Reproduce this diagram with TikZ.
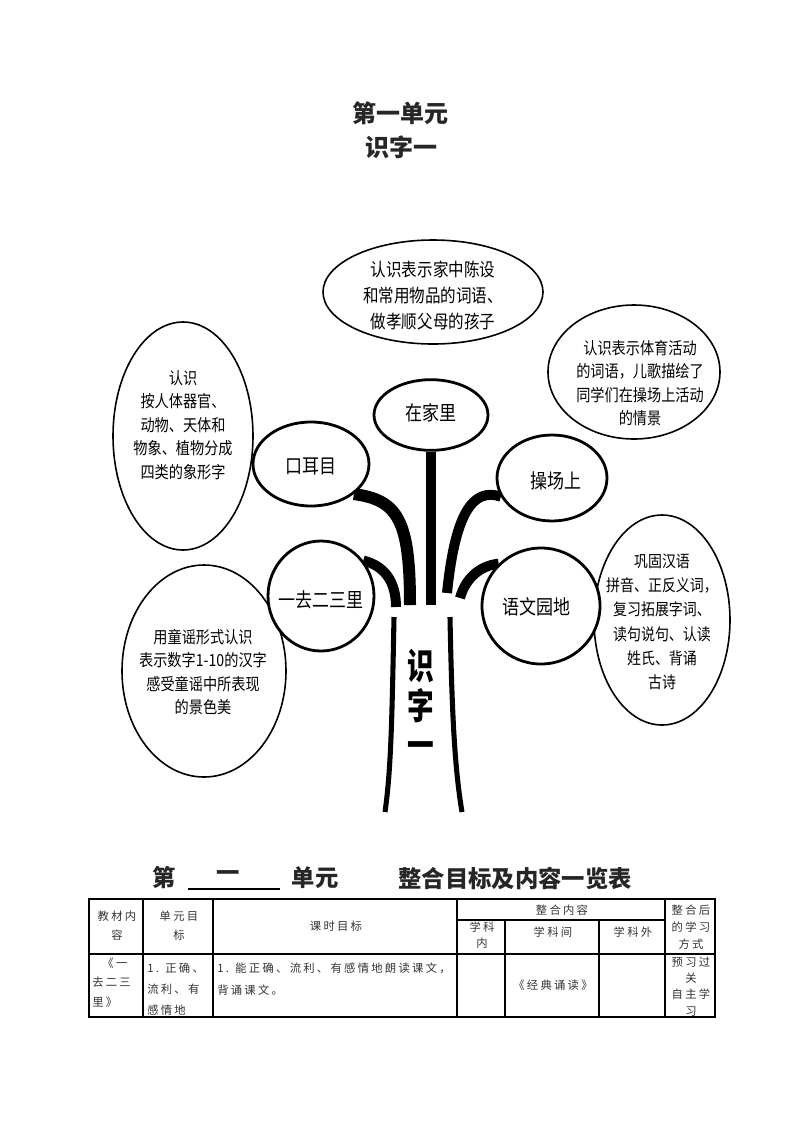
\documentclass[tikz,border=0pt]{standalone}
\usepackage{fontspec}
\setmainfont{Noto Sans CJK SC}
\newfontfamily\cjk{Noto Sans CJK SC}
\newfontfamily\cjkn[FakeStretch=0.85]{Noto Sans CJK SC}
\newfontfamily\cjkr[FakeStretch=0.74]{Noto Sans CJK SC}
\newfontfamily\cjkt[LetterSpace=20]{Noto Sans CJK SC}
\usetikzlibrary{shapes.geometric,backgrounds}
\begin{document}
\begin{tikzpicture}[x=0.75pt,y=-0.75pt,
  bigell/.style={draw, ellipse, line width=1.2pt, inner sep=0pt},
  brell/.style={draw, ellipse, line width=2.1pt, fill=white, inner sep=0pt},
  etext/.style={align=center, inner sep=0pt, font=\cjkn\fontsize{12.5pt}{17.6pt}\selectfont},
  btext/.style={inner sep=0pt, font=\cjkn\fontsize{15pt}{18pt}\selectfont},
  branch/.style={line width=7.5pt},
  trunkline/.style={line width=3.8pt},
  title/.style={inner sep=0pt, text=black!85, font=\cjk\bfseries\fontsize{18pt}{22pt}\selectfont},
  head/.style={inner sep=0pt, text=black!85, font=\cjk\bfseries\fontsize{17.5pt}{21pt}\selectfont},
  tab/.style={inner sep=0pt, text=black!80, font=\cjkt\fontsize{8.5pt}{12pt}\selectfont},
  grid/.style={line width=0.8pt}]
\useasboundingbox (0,0) rectangle (793,1122);

% titles
\node[title] (t1title) at (400,113) {第一单元};
\node[title] (t2title) at (401,147) {识字一};

% big ellipses
\node[bigell, minimum width=105pt, minimum height=171pt] (e1) at (183,436) {};
\node[etext] (e1t) at (183,425) {认识\\按人体器官、\\动物、天体和\\物象、植物分成\\四类的象形字};

\node[bigell, minimum width=165pt, minimum height=78pt] (e2) at (433,292) {};
\node[etext, font=\cjkn\fontsize{13.7pt}{19.5pt}\selectfont] (e2t) at (433,296) {认识表示家中陈设\\和常用物品的词语、\\做孝顺父母的孩子};

\node[bigell, minimum width=129pt, minimum height=100.5pt] (e3) at (634,372) {};
\node[etext] (e3t) at (640,383) {认识表示体育活动\\的词语，儿歌描绘了\\同学们在操场上活动\\的情景};

\node[bigell, minimum width=102pt, minimum height=157.5pt] (e4) at (662,620) {};
\node[etext, font=\cjkn\fontsize{12.3pt}{18.2pt}\selectfont] (e4t) at (662,622) {巩固汉语\\拼音、正反义词，\\复习拓展字词、\\读句说句、认读\\姓氏、背诵\\古诗};

\node[bigell, minimum width=123pt, minimum height=159pt] (e5) at (204,671) {};
\node[etext] (e5t) at (203,672) {用童谣形式认识\\表示数字1-10的汉字\\感受童谣中所表现\\的景色美};

% branch ellipses
\node[brell, minimum width=85.5pt, minimum height=53pt] (zjl) at (431,415) {};
\node[btext] (zjlt) at (431,413) {在家里};
\node[brell, minimum width=87pt, minimum height=63pt] (koe) at (311,464) {};
\node[btext] (koet) at (311,466) {口耳目};
\node[brell, minimum width=82.5pt, minimum height=64.5pt] (csh) at (552,478) {};
\node[btext] (csht) at (556,481) {操场上};
\node[brell, minimum width=79.5pt, minimum height=82.5pt] (yq) at (321,596) {};
\node[btext] (yqt) at (321,600) {一去二三里};
\node[brell, minimum width=88.5pt, minimum height=87pt] (ywy) at (541,606) {};
\node[btext] (ywyt) at (536,607) {语文园地};

% branch ends at top of trunk
\coordinate (b1) at (410,605);
\coordinate (b2) at (396,607);
\coordinate (b3) at (431,605);
\coordinate (b4) at (447,593);
\coordinate (b5) at (460,598);

\begin{pgfonlayer}{background}
\draw[branch, line width=8pt] (zjl.south) -- (b3);
\draw[branch, line width=9pt] (koe.-35) .. controls (398,500) and (410,520) .. (b1);
\draw[branch] (yq.40) .. controls (385,566) and (396,582) .. (b2);
\draw[branch] (csh.200) .. controls (472,487) and (455,515) .. (b4);
\draw[branch] (ywy.135) .. controls (478,566) and (465,580) .. (b5);
\end{pgfonlayer}

% trunk
\coordinate (tl1) at (394,617);
\coordinate (tl2) at (385,812);
\coordinate (tr1) at (450,617);
\coordinate (tr2) at (462,812);
\draw[trunkline] (tl1) .. controls (392,720) and (391,770) .. (tl2);
\draw[trunkline] (tr1) .. controls (452,720) and (455,770) .. (tr2);
\node[align=center, inner sep=0pt, font=\cjkr\bfseries\fontsize{27pt}{29.5pt}\selectfont] (trunk) at (421,704) {识\\字\\一};

% table heading
\node[head] (h1) at (164,878) {第};
\node[head] (h2) at (228,876) {一};
\coordinate (ul1) at (188,889);
\coordinate (ul2) at (280,889);
\draw[line width=0.8pt] (ul1) -- (ul2);
\node[head] (h3) at (315,878) {单元};
\node[head] (h4) at (515,878) {整合目标及内容一览表};

% table grid
\draw[grid] (89,899) rectangle (715,1017);
\draw[grid] (89,954) -- (715,954);
\draw[grid] (457,920) -- (665,920);
\foreach \x in {143,213,457,665} \draw[grid] (\x,899) -- (\x,1017);
\foreach \x in {505,599} \draw[grid] (\x,920) -- (\x,1017);

% table header texts
\node[tab, align=center, font=\cjkt\fontsize{8.5pt}{14.25pt}\selectfont] (c1) at (117,925.5) {教材内\\容};
\node[tab, align=center, font=\cjkt\fontsize{8.5pt}{14.25pt}\selectfont] (c2) at (179,925.5) {单元目\\标};
\node[tab] (c3) at (336,926) {课时目标};
\node[tab] (c4) at (562,910) {整合内容};
\node[tab, align=center, font=\cjkt\fontsize{8.5pt}{12pt}\selectfont] (c5) at (482,935) {学科\\内};
\node[tab] (c6) at (553,932) {学科间};
\node[tab] (c7) at (633,932) {学科外};
\node[tab, align=center, font=\cjkt\fontsize{8.5pt}{12.75pt}\selectfont] (c8) at (691,927) {整合后\\的学习\\方式};

% table body texts
\node[tab, anchor=west, align=left, font=\cjkt\fontsize{8.5pt}{14.6pt}\selectfont] (d1) at (92,982.5) {\hspace*{0.9em}《一\\去二三\\里》};
\node[tab, anchor=west, align=left, font=\cjkt\fontsize{8.5pt}{15.75pt}\selectfont] (d2) at (147,989) {1. 正确、\\流利、有\\感情地};
\node[tab, anchor=west, align=left, font=\cjkt\fontsize{8.5pt}{16.5pt}\selectfont] (d3) at (217,979) {1. 能正确、流利、有感情地朗读课文，\\背诵课文。};
\node[tab] (d4) at (553,985) {《经典诵读》};
\node[tab, align=center, font=\cjkt\fontsize{8.5pt}{12.2pt}\selectfont] (d5) at (691,986.5) {预习过\\关\\自主学\\习};
\end{tikzpicture}
\end{document}
